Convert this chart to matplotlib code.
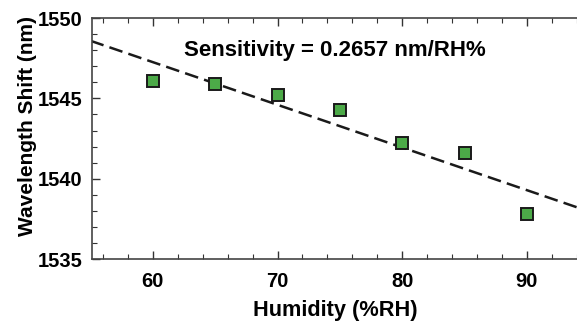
import numpy as np
import matplotlib.pyplot as plt
from matplotlib.ticker import MultipleLocator

humidity = [60, 65, 70, 75, 80, 85, 90]
wavelength = [1546.1, 1545.9, 1545.2, 1544.3, 1542.2, 1541.6, 1537.8]

# linear fit line (as shown on the figure)
slope = -0.2657
intercept = 1563.2
fit_x = np.array([55, 94.2])

plt.rcParams['font.family'] = ['Liberation Sans', 'DejaVu Sans']
plt.rcParams['font.weight'] = 'bold'

fig = plt.figure(figsize=(5.77, 3.23), dpi=100)
ax = fig.add_axes([0.159, 0.198, 0.845, 0.746])

ax.plot(fit_x, slope * fit_x + intercept, '--', color='#1a1a1a', lw=1.8, dashes=(5.5, 2.5))
ax.plot(humidity, wavelength, 's', ms=9, mfc='#4caa48', mec='#1a1a1a', mew=1.4)

ax.set_xlim(55.1, 94.2)
ax.set_ylim(1535, 1550)
ax.xaxis.set_major_locator(MultipleLocator(10))
ax.xaxis.set_minor_locator(MultipleLocator(2))
ax.yaxis.set_major_locator(MultipleLocator(5))
ax.yaxis.set_minor_locator(MultipleLocator(1))
ax.tick_params(which='both', direction='in', top=True, right=False, labelsize=14.5,
               colors='#333333', labelcolor='black')
ax.tick_params(axis='y', pad=6.5)
ax.tick_params(axis='x', pad=9.5)
ax.tick_params(which='major', length=6, width=1)
ax.tick_params(which='minor', length=3.5, width=0.8)
for s in ax.spines.values():
    s.set_color('#444444')
    s.set_linewidth(1.2)
ax.spines['right'].set_visible(False)

ax.set_xlabel('Humidity (%RH)', fontsize=15.7, fontweight='bold')
ax.set_ylabel('Wavelength Shift (nm)', fontsize=15, fontweight='bold')
ax.xaxis.set_label_coords(0.5, -0.168)
ax.yaxis.set_label_coords(-0.113, 0.552)
ax.text(74.6, 1548.0, 'Sensitivity = 0.2657 nm/RH%', fontsize=16, fontweight='bold',
        ha='center', va='center')

fig.savefig('out.png', dpi=100)
